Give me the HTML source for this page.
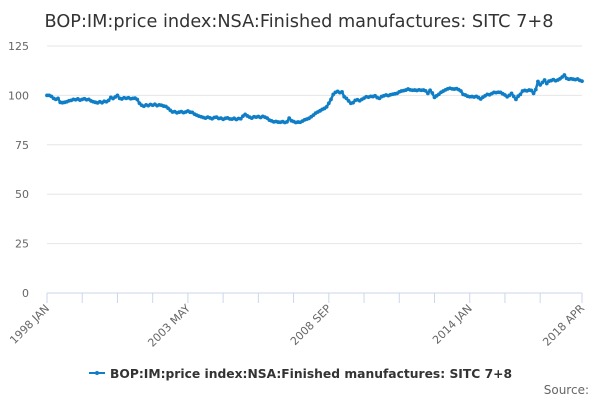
<!DOCTYPE html>
<html><head><meta charset="utf-8">
<style>
html,body{margin:0;padding:0;background:#fff;}
svg{display:block;font-family:"DejaVu Sans","Liberation Sans",sans-serif;}
</style></head>
<body>
<svg id="chart" width="600" height="400" viewBox="0 0 600 400">
<text x="299" y="27" text-anchor="middle" font-size="17.7" fill="#333">BOP:IM:price index:NSA:Finished manufactures: SITC 7+8</text>
<g id="grid"></g>
<g id="xaxis"></g>
<g id="series"></g>
<g>
<line x1="89" y1="373" x2="105" y2="373" stroke="#0f7ec6" stroke-width="2"/>
<circle cx="97" cy="373" r="2" fill="#0f7ec6"/>
<text x="110" y="378" font-size="12" font-weight="bold" fill="#333" textLength="402" lengthAdjust="spacingAndGlyphs">BOP:IM:price index:NSA:Finished manufactures: SITC 7+8</text>
</g>
<text x="589" y="394" text-anchor="end" font-size="12" fill="#666">Source:</text>
</svg>
<script>
const yTicks=[0,25,50,75,100,125];
const xTickLabels=["1998 JAN","2003 MAY","2008 SEP","2014 JAN","2018 APR"];
const xTickLabelIdx=[0,64,128,192,243];
const values=[
100,100,99.5,98.5,98,98.5,96.5,96.3,96.5,96.8,97.3,97.5,
98,97.8,98.2,97.6,98,98.3,97.8,98,97.2,96.8,96.5,96.2,
96.8,96.3,97,96.8,97.5,99,98.4,99.2,100,98.5,98.2,98.8,
98.5,98.8,98.3,98.5,98.6,97.9,96,95,94.5,95.2,94.8,95.4,
95,95.5,94.8,95.2,95,94.6,94.4,93.5,92.5,91.6,91.8,91.2,
91.5,91.8,91.3,91.6,92.1,91.5,91.4,90.5,90,89.5,89.2,88.8,
88.5,89,88.6,88.2,88.8,89,88.3,88.5,87.9,88.4,88.6,88.1,
88,88.4,87.8,88.3,88.2,89.5,90.4,89.6,89,88.5,89.2,89,
89.3,88.8,89.4,89,88.5,87.5,87.1,86.6,86.8,86.5,86.4,86.7,
86.3,86.6,88.5,87.2,86.8,86.3,86.5,86.4,87,87.6,88,88.4,
89.2,90,91,91.6,92.2,92.9,93.4,94.2,96,98,100.5,101.5,
102,101.4,101.8,99.3,98.5,97.2,96,96.3,97.5,97.8,97.3,98,
98.6,99.3,99.1,99.5,99.4,99.8,98.9,98.5,99.4,99.8,100.2,99.9,
100.3,100.6,100.8,101,101.8,102.2,102.4,102.7,103.2,102.8,102.6,102.7,
102.5,102.8,102.6,102.7,102.3,101,102.6,101.2,99,99.8,100.6,101.6,
102.2,102.8,103.3,103.6,103.3,103.2,103.4,102.9,102.2,100.5,100.2,99.6,
99.3,99.4,99.2,99.5,98.9,98.2,99.1,99.8,100.5,100.3,100.9,101.5,
101.4,101.6,101.5,100.8,100.2,99.3,100,101,99.5,98,99.6,100.5,
102.2,102.5,102.3,102.7,102.5,101,103,107,105.3,106.5,107.8,106,
107.2,107.5,108,107.4,107.8,108.4,109.3,110.3,108.6,108.2,108.4,108.2,
108,108.3,107.6,107.2];
const NS="http://www.w3.org/2000/svg";
const X0=47,X1=582,Y0=293,Y1=46;
const n=values.length;
function xs(i){return X0+(X1-X0)*i/(n-1);}
function ys(v){return Y0-(Y0-Y1)*v/125;}
function mk(tag,attrs,parent){const e=document.createElementNS(NS,tag);for(const k in attrs)e.setAttribute(k,attrs[k]);parent.appendChild(e);return e;}
const grid=document.getElementById('grid');
yTicks.forEach(t=>{
  if(t>0){const l=mk('line',{x1:X0,x2:X1,y1:ys(t),y2:ys(t),stroke:'#e6e6e6','stroke-width':1},grid);
  
  }
  const tx=mk('text',{x:29,y:ys(t)+4,'text-anchor':'end','font-size':11,fill:'#666'},grid);
  tx.textContent=t;
  
  
});
const xa=document.getElementById('xaxis');
const al=mk('line',{x1:X0,x2:X1,y1:Y0,y2:Y0,stroke:'#ccd6eb','stroke-width':1},xa);


for(let i=0;i<n-16;i+=16){
  const tk=mk('line',{x1:xs(i),x2:xs(i),y1:Y0,y2:Y0+10,stroke:'#ccd6eb'},xa);
  
  
}
const lt=mk('line',{x1:xs(n-1),x2:xs(n-1),y1:Y0,y2:Y0+10,stroke:'#ccd6eb'},xa);


xTickLabels.forEach((lab,k)=>{
  const x=xs(xTickLabelIdx[k]);
  const t=mk('text',{x:x+3,y:Y0+16,'text-anchor':'end','font-size':11,fill:'#666',transform:`rotate(-45 ${x+3} ${Y0+16})`},xa);
  t.textContent=lab;
  
  
});
const sg=document.getElementById('series');
const d=values.map((v,i)=>(i?'L':'M')+xs(i).toFixed(2)+' '+ys(v).toFixed(2)).join(' ');
const p=mk('path',{d:d,fill:'none',stroke:'#0f7ec6','stroke-width':2.5,'stroke-linejoin':'round'},sg);


values.forEach((v,i)=>{
  const c=mk('circle',{cx:xs(i),cy:ys(v),r:1.9,fill:'#0f7ec6'},sg);
  
  
});
</script>
</body></html>
